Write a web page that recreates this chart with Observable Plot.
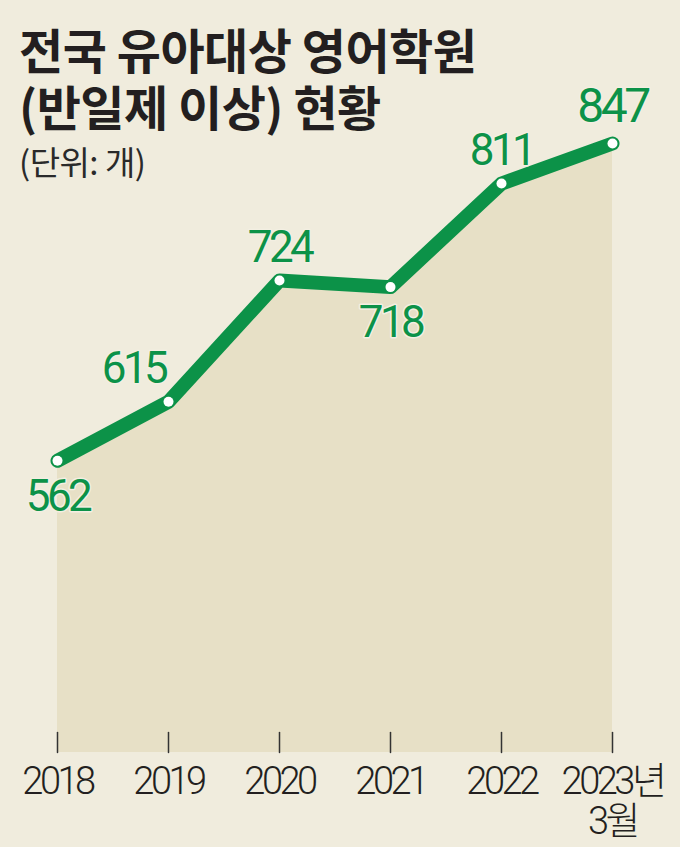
<!DOCTYPE html>
<html>
<head>
<meta charset="utf-8">
<script src="https://cdn.jsdelivr.net/npm/d3@7"></script>
<script src="https://cdn.jsdelivr.net/npm/@observablehq/plot@0.6"></script>
<style>
  html, body { margin: 0; padding: 0; }
  body { width: 680px; height: 847px; background: #f0ecdd; position: relative; overflow: hidden; }
  .title { position: absolute; left: 19px; font-family: "Noto Sans CJK KR", sans-serif; font-weight: 700; font-size: 48px; line-height: 50px; color: #231f20; letter-spacing: -0.5px; z-index: 2; white-space: nowrap; }
  #t1 { top: 23px; }
  #t2 { top: 80px; }
  #subtitle { position: absolute; left: 19px; top: 143px; font-family: "Noto Sans CJK KR", sans-serif; font-weight: 400; font-size: 33px; line-height: 36px; color: #2a2a2a; letter-spacing: -0.5px; z-index: 2; white-space: nowrap; }
  #chart { position: absolute; left: 0; top: 0; z-index: 1; }
  #chart svg text.num { letter-spacing: -3.5px; }
</style>
</head>
<body>
<div class="title" id="t1">전국 유아대상 영어학원</div>
<div class="title" id="t2">(반일제 이상) 현황</div>
<div id="subtitle">(단위: 개)</div>
<div id="chart"></div>
<script>
const years = [2018, 2019, 2020, 2021, 2022, 2023];
const values = [562, 615, 724, 718, 811, 847];
const xLabels = ["2018", "2019", "2020", "2021", "2022", "2023년\n3월"];

const data = years.map((year, i) => ({year, value: values[i], label: String(values[i])}));

const green = "#0c9248";
const numFont = "Roboto, 'Noto Sans CJK KR', sans-serif";
const tickShape = { draw(context, l) { context.moveTo(0, 0); context.lineTo(0, -l); } };

const above = new Set([2020, 2022]);
const below = new Set([2018, 2021]);
const halo = { stroke: "#f3efe2", strokeWidth: 3 };
const lab = { fill: green, ...halo, fontFamily: numFont, fontWeight: 400 };

const chart = Plot.plot({
  width: 680,
  height: 847,
  marginTop: 143,
  marginBottom: 95,
  marginLeft: 57,
  marginRight: 68,
  style: { background: "transparent", overflow: "visible" },
  x: { type: "linear", domain: [2018, 2023], axis: null },
  y: { domain: [300, 847], axis: null },
  marks: [
    Plot.areaY(data, { x: "year", y: "value", fill: "#e7e0c6", clip: true }),
    Plot.vector(years, { x: d => d, frameAnchor: "bottom", anchor: "start", length: 20, rotate: 0, shape: tickShape, stroke: "#333", strokeWidth: 1.5 }),
    Plot.text(years, { x: d => d, text: (d, i) => xLabels[i], frameAnchor: "bottom", lineAnchor: "top", dy: 13, fontSize: 38, lineHeight: 1.05, fill: "#231f20", fontFamily: numFont, fontWeight: 300 }),
    Plot.line(data, { x: "year", y: "value", stroke: green, strokeWidth: 14, strokeLinecap: "round", strokeLinejoin: "round" }),
    Plot.dot(data, { x: "year", y: "value", r: 5, fill: "#ffffff", stroke: null }),
    Plot.text(data.filter(d => above.has(d.year)), { x: "year", y: "value", text: "label", dy: -33, fontSize: 44, ...lab }),
    Plot.text(data.filter(d => d.year === 2023), { x: "year", y: "value", text: "label", dy: -37, fontSize: 48, ...lab }),
    Plot.text(data.filter(d => below.has(d.year)), { x: "year", y: "value", text: "label", dy: 36, fontSize: 44, ...lab }),
    Plot.text(data.filter(d => d.year === 2019), { x: "year", y: "value", text: "label", dx: -35, dy: -33, fontSize: 44, ...lab })
  ]
});
d3.select(chart).selectAll("g[aria-label='text'] text").classed("num", true);
document.getElementById("chart").appendChild(chart);
</script>
</body>
</html>
